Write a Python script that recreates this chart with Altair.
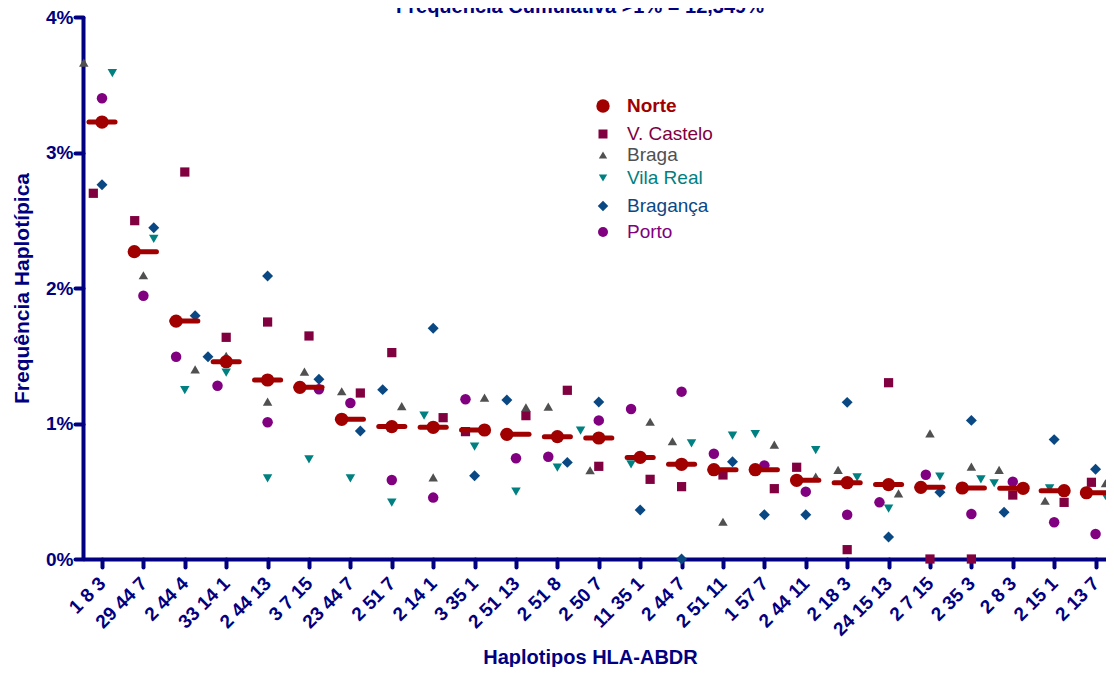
import altair as alt
import pandas as pd

chart_title = "Frequência Cumulativa >1% = 12,349%"
x_title = "Haplotipos HLA-ABDR"
y_title = "Frequência Haplotípica"

haplotypes = ["1 8 3", "29 44 7", "2 44 4", "33 14 1", "2 44 13", "3 7 15",
              "23 44 7", "2 51 7", "2 14 1", "3 35 1", "2 51 13", "2 51 8",
              "2 50 7", "11 35 1", "2 44 7", "2 51 11", "1 57 7", "2 44 11",
              "2 18 3", "24 15 13", "2 7 15", "2 35 3", "2 8 3", "2 15 1", "2 13 7"]

series_names = ["Norte", "V. Castelo", "Braga", "Vila Real", "Bragança", "Porto"]

# frequencies (%)
norte = [3.225, 2.268, 1.756, 1.456, 1.321, 1.267, 1.031, 0.977, 0.972, 0.952,
         0.920, 0.903, 0.893, 0.750, 0.699, 0.659, 0.659, 0.581, 0.563, 0.549,
         0.529, 0.524, 0.522, 0.504, 0.489]
v_castelo = [2.699, 2.497, 2.856, 1.636, 1.749, 1.646, 1.225, 1.523, 1.043, 0.940,
             1.058, 1.245, 0.684, 0.588, 0.534, 0.620, 0.519, 0.677, 0.069, 1.301,
             0.0, 0.0, 0.472, 0.418, 0.566]
braga = [3.663, 2.094, 1.400, 1.500, 1.161, 1.383, 1.238, 1.129, 0.603, 1.191,
         1.119, 1.124, 0.655, 1.013, 0.869, 0.275, 0.844, 0.608, 0.657, 0.485,
         0.927, 0.681, 0.657, 0.430, 0.559]
vila_real = [3.585, 2.362, 1.247, 1.375, 0.595, 0.736, 0.595, 0.416, 1.058, 0.829,
             0.497, 0.674, 0.947, 0.699, 0.854, 0.910, 0.922, 0.804, 0.603, 0.371,
             0.608, 0.588, 0.559, 0.522, 0.465]
braganca = [2.762, 2.445, 1.796, 1.493, 2.089, 1.326, 0.945, 1.250, 1.703, 0.615,
            1.173, 0.713, 1.159, 0.362, 0.0, 0.718, 0.327, 0.327, 1.156, 0.162,
            0.492, 1.023, 0.345, 0.881, 0.662]
porto = [3.400, 1.943, 1.493, 1.279, 1.009, 1.252, 1.151, 0.583, 0.453, 1.179,
         0.743, 0.755, 1.023, 1.107, 1.235, 0.777, 0.691, 0.497, 0.327, 0.418,
         0.622, 0.332, 0.571, 0.271, 0.185]

# horizontal scatter (jitter) of each point inside its column, in column units
norte_jitter = [0, -0.22, -0.21, 0, 0, -0.22, -0.21, 0, 0, 0.24, -0.22, 0, 0, 0, 0,
                -0.22, -0.22, -0.22, 0, 0, -0.22, -0.22, 0.25, 0.24, -0.22]
castelo_jitter = [-0.21, -0.21, 0, 0, 0, 0, 0.24, 0, 0.24, -0.22, 0.24, 0.24, 0, 0.24, 0,
                  0, 0.24, -0.22, 0, 0, 0, 0, 0, 0.24, -0.1]
braga_jitter = [-0.44, 0, 0.25, 0, 0, -0.11, -0.21, 0.24, 0, 0.24, 0.24, -0.22, -0.21,
                0.24, -0.22, 0, 0.24, 0.24, -0.22, 0.24, 0, 0, -0.33, -0.22, 0.24]
vila_jitter = [0.25, 0.25, 0, 0, 0, 0, 0, 0, -0.22, 0, 0, 0, -0.44, -0.22, 0.24, 0.23,
               -0.22, 0.24, 0.24, 0, 0.24, 0.23, -0.45, -0.11, 0.24]
braganca_jitter = [0, 0.25, 0.25, -0.44, 0, 0.24, 0.24, -0.22, 0, 0, -0.22, 0.24, 0, 0,
                   0, 0.23, 0, 0, 0, 0, 0.24, 0, -0.21, 0, 0]
porto_jitter = [0, 0, -0.21, -0.21, 0, 0.24, 0, 0, 0, -0.22, 0, -0.22, 0, -0.22, 0,
                -0.22, 0, 0, 0, -0.22, -0.1, 0, 0, 0, 0]

values = {"Norte": norte, "V. Castelo": v_castelo, "Braga": braga,
          "Vila Real": vila_real, "Bragança": braganca, "Porto": porto}
jitters = {"Norte": norte_jitter, "V. Castelo": castelo_jitter, "Braga": braga_jitter,
           "Vila Real": vila_jitter, "Bragança": braganca_jitter, "Porto": porto_jitter}

NAVY = "#000080"
FONT = "Liberation Sans"
styles = {
    "Norte": ("#a00000", "circle", 175),
    "V. Castelo": ("#800040", "square", 85),
    "Braga": ("#505050", "triangle-up", 90),
    "Vila Real": ("#008080", "triangle-down", 90),
    "Bragança": ("#0a4884", "diamond", 120),
    "Porto": ("#800080", "circle", 110),
}

W, H = 1023, 542
x_scale = alt.Scale(domain=[-0.459, 24.252], nice=False, zero=False)
y_scale = alt.Scale(domain=[0, 4], nice=False)

label_array = "[" + ",".join("'" + h + "'" for h in haplotypes) + "]"
x_axis = alt.Axis(values=list(range(len(haplotypes))),
                  labelExpr=label_array + "[round(datum.value)]",
                  labelAngle=315, labelAlign="right", labelBaseline="middle",
                  labelPadding=13, labelFontSize=19, labelFontWeight="bold",
                  labelColor=NAVY, labelFont=FONT, labelOverlap=False, labelFlush=False,
                  title=x_title, titleFontSize=20, titleFontWeight="bold", titleColor=NAVY,
                  titleFont=FONT, titleX=507, titleY=98, titleAlign="center",
                  titleBaseline="middle", titleAnchor="start",
                  grid=False, domainColor=NAVY, domainWidth=4, tickColor=NAVY,
                  tickWidth=4, tickSize=8, tickCap="round")
y_axis = alt.Axis(values=[0, 1, 2, 3, 4], labelExpr="datum.value + '%'",
                  labelFontSize=19, labelFontWeight="bold", labelColor=NAVY, labelFont=FONT,
                  labelPadding=2, labelFlush=False,
                  title=y_title, titleFontSize=21, titleFontWeight="bold", titleColor=NAVY,
                  titleFont=FONT, titleX=-61, titleY=H / 2, titleAngle=270,
                  titleAlign="center", titleBaseline="middle", titleAnchor="start",
                  grid=False, domainColor=NAVY, domainWidth=4, tickColor=NAVY,
                  tickWidth=4, tickSize=8, tickCap="round")

X = lambda f: alt.X(f, type="quantitative", scale=x_scale, axis=x_axis)
Y = lambda f: alt.Y(f, type="quantitative", scale=y_scale, axis=y_axis)

rows = []
for s in series_names:
    for i, h in enumerate(haplotypes):
        rows.append({"series": s, "hap": h, "idx": i, "value": values[s][i],
                     "xpos": i + jitters[s][i]})
df = pd.DataFrame(rows)

layers = []
for s in series_names[1:]:
    col, shp, sz = styles[s]
    layers.append(
        alt.Chart(df[df.series == s]).mark_point(
            shape=shp, filled=True, size=sz, color=col, opacity=1, clip=False
        ).encode(x=X("xpos"), y=Y("value"))
    )

dn = df[df.series == "Norte"].copy()
dn["bar_lo"] = dn["idx"] - 0.315
dn["bar_hi"] = dn["idx"] + 0.315
layers.append(
    alt.Chart(dn).mark_rule(color=styles["Norte"][0], strokeWidth=5, strokeCap="round")
    .encode(x=X("bar_lo"), x2="bar_hi", y=Y("value"))
)
layers.append(
    alt.Chart(dn).mark_point(shape="circle", filled=True, size=styles["Norte"][2],
                             color=styles["Norte"][0], opacity=1)
    .encode(x=X("xpos"), y=Y("value"))
)

# legend (manual, to get coloured labels)
leg_rows_y = [89, 117, 138, 161, 189, 215]
leg_sizes = [180, 81, 70, 70, 110, 100]
for s, ly, ls in zip(series_names, leg_rows_y, leg_sizes):
    col, shp, _ = styles[s]
    d = pd.DataFrame({"series": [s]})
    layers.append(
        alt.Chart(d).mark_point(shape=shp, filled=True, size=ls, color=col, opacity=1)
        .encode(x=alt.value(520), y=alt.value(ly))
    )
    layers.append(
        alt.Chart(d).mark_text(align="left", baseline="middle", font=FONT, fontSize=19,
                               fontWeight="bold" if s == "Norte" else "normal", color=col)
        .encode(x=alt.value(544), y=alt.value(ly), text="series:N")
    )

layers.append(
    alt.Chart(pd.DataFrame({"t": [chart_title]})).mark_text(
        align="center", baseline="alphabetic", font=FONT, fontSize=20,
        fontWeight="bold", color=NAVY
    ).encode(x=alt.value(497), y=alt.value(-4), text="t:N")
)

chart = alt.layer(*layers).properties(
    width=W, height=H,
    autosize=alt.AutoSizeParams(type="none"),
    padding={"left": 75, "top": 9, "right": 0, "bottom": 108},
).configure_view(stroke=None)

chart.save("out.html", embed_options={"renderer": "svg", "actions": False})
